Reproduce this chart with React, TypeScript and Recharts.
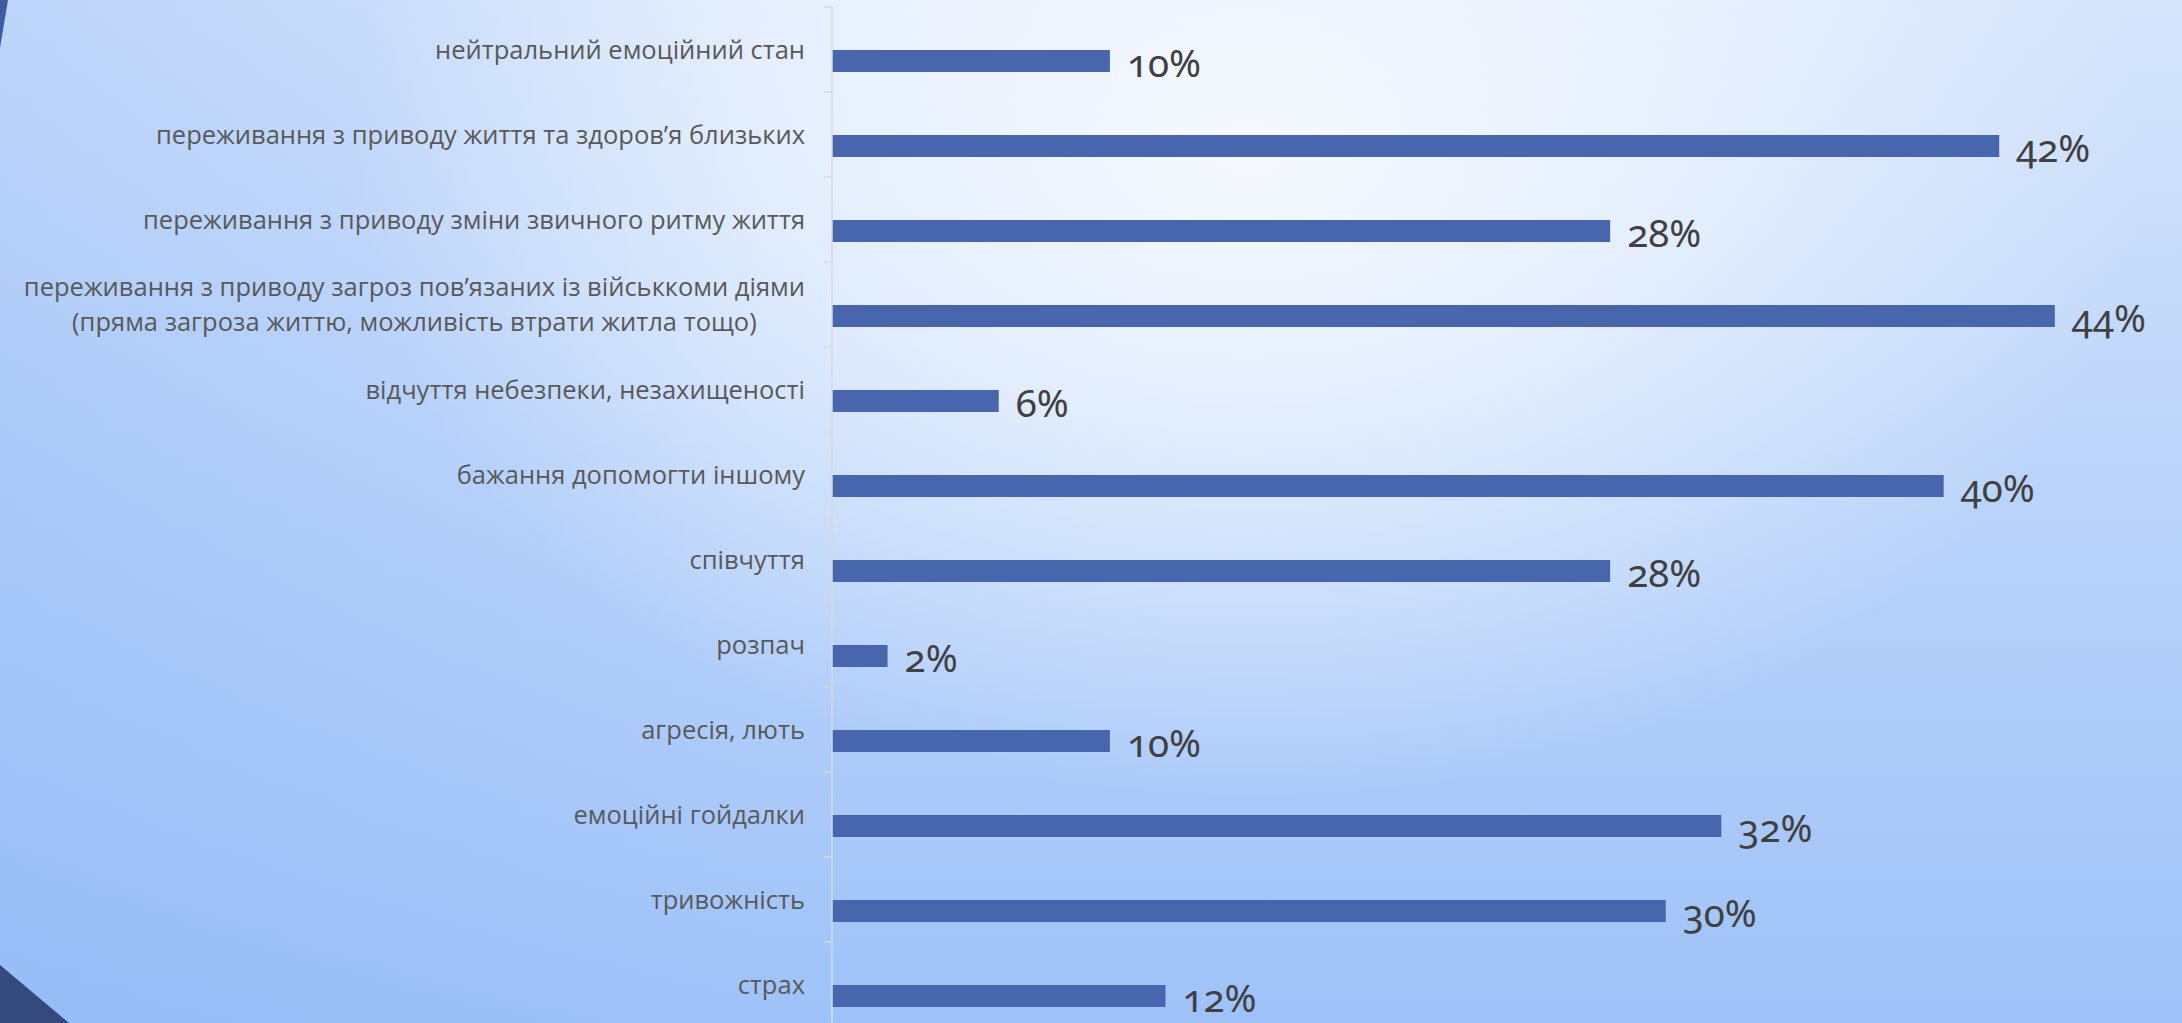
import React from 'react';
import { BarChart, Bar, XAxis, YAxis, LabelList } from 'recharts';

const categories = [
  'нейтральний емоційний стан',
  'переживання з приводу життя та здоров’я близьких',
  'переживання з приводу зміни звичного ритму життя',
  'переживання з приводу загроз пов’язаних із військкоми діями\n(пряма загроза життю, можливість втрати житла тощо)',
  'відчуття небезпеки, незахищеності',
  'бажання допомогти іншому',
  'співчуття',
  'розпач',
  'агресія, лють',
  'емоційні гойдалки',
  'тривожність',
  'страх',
];
const values = [10, 42, 28, 44, 6, 40, 28, 2, 10, 32, 30, 12];

const data = categories.map((name, i) => ({ name, value: values[i] }));

const W = 2182;
const H = 1030;
const MARGIN = { top: 7, right: 16, bottom: 3, left: 0 };
const Y_AXIS_W = 832;
const AXIS_X = MARGIN.left + Y_AXIS_W;
const PLOT_H = H - MARGIN.top - MARGIN.bottom;
const BAND = PLOT_H / categories.length;

const LABEL_SIZE = 25.5;
const LABEL_FONT = `${LABEL_SIZE}px "Open Sans"`;
let ctx: CanvasRenderingContext2D | null = null;
function measure(t: string): number {
  if (!ctx) {
    const c = document.createElement('canvas');
    ctx = c.getContext('2d');
  }
  if (!ctx) return t.length * 13;
  ctx.font = LABEL_FONT;
  return ctx.measureText(t).width;
}

function CategoryTick(props: any) {
  const { y, payload, index } = props;
  const half = payload && payload.offset ? payload.offset : BAND / 2;
  const lines: string[] = String(payload.value).split('\n');
  const right = AXIS_X - 27;
  const widths = lines.map(measure);
  const maxW = Math.max(...widths);
  const cx = right - maxW / 2;
  const n = lines.length;
  return (
    <g>
      <line x1={AXIS_X - 8} x2={AXIS_X} y1={y - half} y2={y - half} stroke="#d9d9d9" strokeWidth={1.5} />
      {index === categories.length - 1 && (
        <line x1={AXIS_X - 8} x2={AXIS_X} y1={y + half} y2={y + half} stroke="#d9d9d9" strokeWidth={1.5} />
      )}
      {lines.map((ln, i) => (
        <text
          key={i}
          x={n > 1 ? cx : right}
          y={y + 9 + (i - (n - 1) / 2) * 35}
          textAnchor={n > 1 ? 'middle' : 'end'}
          fontFamily='"Open Sans", sans-serif'
          fontSize={LABEL_SIZE}
          fill="#595959"
        >
          {ln}
        </text>
      ))}
    </g>
  );
}

function ValueLabel(props: any) {
  const { x, y, width, height, value } = props;
  if (value == null) return null;
  return (
    <text
      x={Number(x) + Number(width) + 17}
      y={Number(y) + Number(height) + 5}
      fontFamily='"Noto Sans", sans-serif'
      fontSize={38.5}
      fill="#404040"
      style={{ fontVariantNumeric: 'oldstyle-nums', fontFeatureSettings: '"onum"' }}
    >
      {`${value}%`}
    </text>
  );
}

export default function App() {
  return (
    <div
      style={{
        position: 'absolute',
        left: 0,
        top: 0,
        width: W,
        height: 1023,
        overflow: 'hidden',
        background:
          'radial-gradient(ellipse 900px 650px at 1250px 150px, rgba(248,251,255,0.95) 0%, rgba(248,251,255,0.6) 45%, rgba(248,251,255,0) 100%), linear-gradient(90deg, rgba(130,175,245,0.3) 0%, rgba(130,175,245,0) 35%), linear-gradient(180deg, #d6e5fc 0%, #b9d3fa 50%, #9ec2f8 100%)',
      }}
    >
      <svg width={W} height={1023} style={{ position: 'absolute', left: 0, top: 0 }}>
        <polygon points="0,0 8,0 0,48" fill="#3e5ca4" />
        <polygon points="0,965 69,1023 0,1023" fill="#344a7e" />
      </svg>
      <div style={{ position: 'absolute', left: 0, top: 0 }}>
        <BarChart width={W} height={H} data={data} layout="vertical" margin={MARGIN} barGap={0}>
          <XAxis type="number" domain={[0, 48]} hide />
          <YAxis
            type="category"
            dataKey="name"
            width={Y_AXIS_W}
            axisLine={{ stroke: '#d9d9d9', strokeWidth: 1.5 }}
            tickLine={false}
            tick={(p: any) => <CategoryTick {...p} />}
            interval={0}
          />
          <Bar dataKey="spacer" barSize={22} fill="none" isAnimationActive={false} />
          <Bar dataKey="value" barSize={22} fill="#4866ae" isAnimationActive={false}>
            <LabelList dataKey="value" content={(p: any) => <ValueLabel {...p} />} />
          </Bar>
        </BarChart>
      </div>
    </div>
  );
}
